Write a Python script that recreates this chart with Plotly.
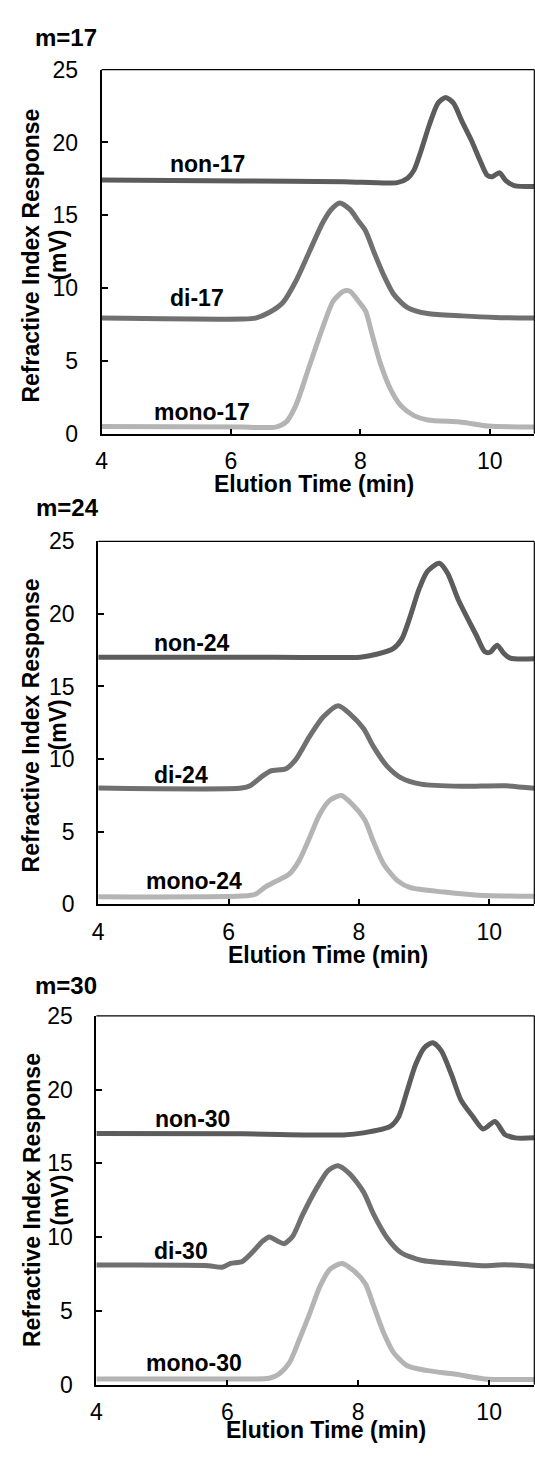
import plotly.graph_objects as go

# ---------------- data ----------------
panel_titles = ["m=17", "m=24", "m=30"]
series_names = ["non", "di", "mono"]

# m=17
non17_t = [4.0, 6.17, 7.74, 8.57, 8.73, 8.83, 8.94, 9.07, 9.2, 9.32, 9.44, 9.57, 9.72, 9.85, 9.96, 10.04, 10.15, 10.25, 10.38, 10.69]
non17_v = [17.42, 17.36, 17.31, 17.24, 17.54, 18.1, 19.45, 21.25, 22.7, 23.09, 22.7, 21.47, 20.12, 18.77, 17.76, 17.65, 17.92, 17.38, 17.04, 16.97]
di17_t = [4.0, 6.17, 6.38, 6.59, 6.8, 7.0, 7.21, 7.42, 7.55, 7.68, 7.84, 7.97, 8.08, 8.21, 8.36, 8.52, 8.73, 9.04, 9.57, 10.09, 10.69]
di17_v = [7.94, 7.87, 7.94, 8.32, 8.99, 10.45, 12.48, 14.5, 15.4, 15.85, 15.4, 14.61, 13.94, 12.48, 10.9, 9.55, 8.66, 8.25, 8.09, 7.98, 7.94]
mono17_t = [4.0, 6.17, 6.69, 6.85, 7.0, 7.21, 7.42, 7.58, 7.74, 7.84, 7.97, 8.08, 8.18, 8.31, 8.47, 8.63, 8.83, 9.04, 9.57, 9.98, 10.69]
mono17_v = [0.49, 0.45, 0.45, 0.79, 1.91, 4.61, 7.31, 9.1, 9.78, 9.78, 9.1, 8.43, 6.86, 4.83, 3.03, 1.91, 1.24, 0.94, 0.79, 0.52, 0.45]

# m=24
non24_t = [4.0, 6.72, 8.02, 8.27, 8.53, 8.66, 8.79, 8.92, 9.05, 9.23, 9.36, 9.52, 9.67, 9.8, 9.93, 10.01, 10.12, 10.22, 10.32, 10.69]
non24_v = [17.02, 17.02, 17.02, 17.22, 17.63, 18.3, 19.88, 21.69, 22.93, 23.49, 22.81, 21.01, 19.66, 18.53, 17.4, 17.36, 17.85, 17.29, 16.95, 16.91]
di24_t = [4.0, 6.2, 6.33, 6.49, 6.64, 6.88, 7.03, 7.24, 7.45, 7.68, 7.86, 8.07, 8.22, 8.43, 8.64, 8.95, 9.57, 10.24, 10.69]
di24_v = [8.0, 8.0, 8.16, 8.72, 9.17, 9.33, 9.96, 11.54, 12.89, 13.68, 13.12, 12.1, 10.87, 9.51, 8.72, 8.27, 8.12, 8.16, 7.98]
mono24_t = [4.0, 6.2, 6.41, 6.56, 6.72, 6.93, 7.08, 7.24, 7.39, 7.55, 7.73, 7.91, 8.09, 8.22, 8.38, 8.59, 8.79, 9.31, 9.83, 10.69]
mono24_v = [0.5, 0.56, 0.68, 1.17, 1.56, 2.07, 2.98, 4.55, 6.13, 7.15, 7.48, 6.81, 5.79, 4.33, 2.75, 1.62, 1.13, 0.83, 0.61, 0.54]

# m=30
non30_t = [4.0, 6.23, 7.77, 8.08, 8.49, 8.62, 8.75, 8.88, 9.01, 9.14, 9.27, 9.42, 9.57, 9.75, 9.91, 10.09, 10.24, 10.4, 10.69]
non30_v = [17.02, 17.0, 16.93, 17.07, 17.51, 18.18, 19.96, 21.73, 22.84, 23.18, 22.62, 21.07, 19.29, 18.18, 17.33, 17.84, 16.96, 16.73, 16.73]
di30_t = [4.0, 5.71, 5.92, 6.05, 6.23, 6.38, 6.54, 6.64, 6.77, 6.87, 7.0, 7.15, 7.36, 7.54, 7.69, 7.87, 8.08, 8.24, 8.44, 8.65, 8.96, 9.47, 9.93, 10.24, 10.69]
di30_v = [8.11, 8.07, 7.96, 8.22, 8.36, 8.96, 9.73, 10.02, 9.73, 9.56, 10.07, 11.51, 13.29, 14.51, 14.84, 14.29, 13.07, 11.51, 9.96, 8.96, 8.44, 8.22, 8.07, 8.13, 8.02]
mono30_t = [4.0, 6.23, 6.64, 6.79, 6.95, 7.1, 7.26, 7.41, 7.57, 7.75, 7.93, 8.11, 8.24, 8.39, 8.54, 8.75, 9.06, 9.47, 9.93, 10.69]
mono30_v = [0.4, 0.4, 0.44, 0.73, 1.51, 3.07, 4.84, 6.62, 7.84, 8.22, 7.73, 6.84, 5.29, 3.51, 2.18, 1.29, 0.96, 0.73, 0.4, 0.36]

x_tick_vals = [4, 6, 8, 10]
y_tick_vals = [0, 5, 10, 15, 20, 25]
x_title = "Elution Time (min)"
y_title_line1 = "Refractive Index Response"
y_title_line2 = "(mV)"

panels = [
    {"title": "m=17", "data": [("non-17", non17_t, non17_v), ("di-17", di17_t, di17_v), ("mono-17", mono17_t, mono17_v)]},
    {"title": "m=24", "data": [("non-24", non24_t, non24_v), ("di-24", di24_t, di24_v), ("mono-24", mono24_t, mono24_v)]},
    {"title": "m=30", "data": [("non-30", non30_t, non30_v), ("di-30", di30_t, di30_v), ("mono-30", mono30_t, mono30_v)]},
]

# ---------------- layout (pixels) ----------------
W, H = 535, 1458
colors = {"non": "#5c5c5c", "di": "#707070", "mono": "#b4b4b4"}
FONT = "Arial, 'Liberation Sans', sans-serif"

# per panel: left, right, top, bottom of plot area (px)
boxes = [(96.7, 534.3, 57.7, 428.3), (93.3, 534.3, 538.0, 907.3), (91.4, 534.3, 1021.0, 1396.7)]
title_pos = [(27.3, 25.0), (28.3, 503.3), (27.3, 990.0)]
xtitle_pos = [(311.7, 480.0), (325.8, 959.3), (324.0, 1443.0)]
ytitle_pos = [(25.6, 52.9, 246.7), (25.6, 52.9, 725.0), (25.6, 54.6, 1208.3)]
label_pos = [
    [(204.2, 153.3), (193.1, 290.0), (198.7, 406.0)],
    [(188.5, 641.7), (177.0, 776.0), (190.2, 883.3)],
    [(188.5, 1125.7), (177.3, 1260.0), (190.2, 1375.0)],
]

def px(xp):
    return xp / W

def py(yp):
    return 1 - yp / H

fig = go.Figure()
annotations = []
shapes = []

for i, p in enumerate(panels):
    k = "" if i == 0 else str(i + 1)
    xa, ya = "x" + k, "y" + k
    l, r, t, b = boxes[i]
    for (name, tt, vv), key in zip(p["data"], series_names):
        fig.add_trace(go.Scatter(
            x=tt, y=vv, mode="lines", name=name, xaxis=xa, yaxis=ya,
            line=dict(color=colors[key], width=5, shape="spline", smoothing=0.7),
            showlegend=False, hoverinfo="skip"))
    axis_common = dict(showgrid=False, zeroline=False, showline=True, linecolor="black",
                       linewidth=2, ticks="inside", tickcolor="black", tickwidth=1.5,
                       tickfont=dict(family=FONT, size=23, color="black"), mirror=False)
    fig.layout["xaxis" + k] = dict(axis_common, domain=[px(l), px(r)], range=[4, 10.69],
                                   tickvals=x_tick_vals, ticklen=5, anchor=ya,
                                   ticklabelstandoff=6)
    fig.layout["yaxis" + k] = dict(axis_common, domain=[py(b), py(t)], range=[0, 25],
                                   tickvals=y_tick_vals, ticklen=6, anchor=xa,
                                   ticklabelstandoff=17)
    # top and right frame lines
    shapes.append(dict(type="line", xref=xa + " domain", yref=ya + " domain",
                       x0=0, x1=1, y0=1, y1=1, line=dict(color="black", width=1.2)))
    shapes.append(dict(type="line", xref=xa + " domain", yref=ya + " domain",
                       x0=1, x1=1, y0=0, y1=1, line=dict(color="black", width=1.2)))
    # panel title
    tx, ty = title_pos[i]
    annotations.append(dict(text="<b>%s</b>" % p["title"], x=px(tx), y=py(ty), xref="paper", yref="paper",
                            xanchor="left", yanchor="middle", showarrow=False,
                            font=dict(family=FONT, size=24, color="black")))
    # x title
    xx, xy = xtitle_pos[i]
    annotations.append(dict(text="<b>%s</b>" % x_title, x=px(xx), y=py(xy), xref="paper", yref="paper",
                            xanchor="center", yanchor="middle", showarrow=False,
                            font=dict(family=FONT, size=23, color="black")))
    # y title (two lines)
    y1x, y2x, yy = ytitle_pos[i]
    annotations.append(dict(text="<b>%s</b>" % y_title_line1, x=px(y1x), y=py(yy), xref="paper", yref="paper",
                            xanchor="center", yanchor="middle", showarrow=False, textangle=-90,
                            font=dict(family=FONT, size=23, color="black")))
    annotations.append(dict(text="<b>%s</b>" % y_title_line2, x=px(y2x), y=py(yy), xref="paper", yref="paper",
                            xanchor="center", yanchor="middle", showarrow=False, textangle=-90,
                            font=dict(family=FONT, size=23, color="black")))
    # series labels
    for (name, _, _), (lx, ly) in zip(p["data"], label_pos[i]):
        annotations.append(dict(text="<b>%s</b>" % name, x=px(lx), y=py(ly), xref="paper", yref="paper",
                                xanchor="center", yanchor="middle", showarrow=False,
                                font=dict(family=FONT, size=23, color="black")))

fig.update_layout(width=W, height=H, margin=dict(l=0, r=0, t=0, b=0),
                  paper_bgcolor="white", plot_bgcolor="white",
                  annotations=annotations, shapes=shapes,
                  font=dict(family=FONT, color="black"))

fig.write_html("out.html")
